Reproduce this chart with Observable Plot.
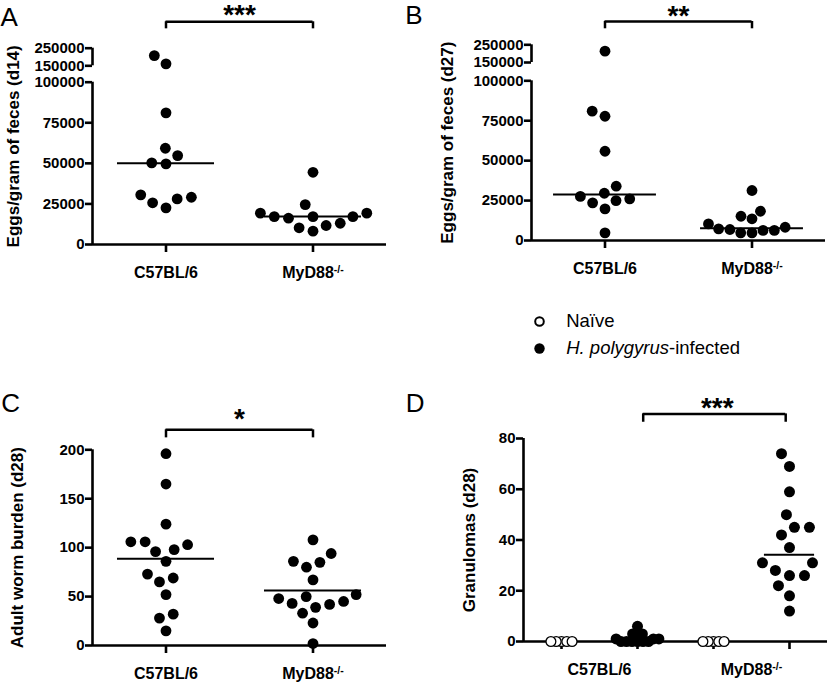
<!DOCTYPE html>
<html><head><meta charset="utf-8">
<script src="https://cdn.jsdelivr.net/npm/d3@7"></script>
<script src="https://cdn.jsdelivr.net/npm/@observablehq/plot@0.6"></script>
<style>
body{margin:0;background:#fff;}
#fig{position:relative;width:832px;height:684px;background:#fff;}
.cell{position:absolute;}
</style></head><body><div id="fig"></div>
<script>
// ---------- data ----------
const groups = ["C57BL/6", "MyD88-/-"];
// Panel A: eggs/gram of feces, day 14
const eggsD14C57 = [208000, 161000, 81100, 59300, 54800, 50300, 49700, 30600, 29100, 28100, 25700, 22600];
const eggsD14MyD88 = [44500, 24600, 19300, 19300, 17200, 17200, 17200, 16200, 13100, 11700, 10300, 8200];
const eggsD14Lines = [50000, 17200];
// Panel B: eggs/gram of feces, day 27
const eggsD27C57 = [214000, 81000, 77800, 55900, 34000, 29600, 27600, 26100, 25000, 23600, 19800, 4800];
const eggsD27MyD88 = [31300, 18300, 15200, 13600, 10400, 8300, 7300, 6900, 6300, 6300, 4800, 4800];
const eggsD27Lines = [28800, 7700];
const eggTicks = [0, 25000, 50000, 75000, 100000, 150000, 250000];
// Panel C: adult worm burden, day 28
const wormsC57 = [196, 165, 124, 106, 106, 103, 98, 96, 86, 73, 69, 65, 52, 32, 28, 15];
const wormsMyD88 = [108, 94, 86, 85, 80, 67, 52, 50, 48, 45, 43, 42, 39, 33, 23, 2];
const wormsLines = [88.6, 56.2];
const wormTicks = [0, 50, 100, 150, 200];
// Panel D: granulomas, day 28
const granCats = ["C57BL/6 naive", "C57BL/6 infected", "MyD88-/- naive", "MyD88-/- infected"];
const granC57Naive = [0, 0, 0, 0, 0];
const granC57Infected = [6, 3, 3, 2, 2, 1, 1, 1, 0, 0, 0, 0, 0, 0];
const granMyD88Naive = [0, 0, 0, 0, 0];
const granMyD88Infected = [74, 69, 59, 50, 45, 45, 42, 37, 31, 31, 28, 26, 26, 22, 18, 12];
const granLines = [null, 1, null, 34.2];
const granTicks = [0, 20, 40, 60, 80];
const significance = ["***", "**", "*", "***"];
const legendLabels = ["Naïve", "H. polygyrus-infected"];

// ---------- drawing ----------
const FONT = '"Liberation Sans", Arial, Helvetica, sans-serif';
const AX = 2.6;

function panel(cfg) {
  const first = cfg.cats[0];
  const b = cfg.bracket;
  const lines = cfg.lines.map((v, k) => ({g: cfg.cats[k], v})).filter(d => d.v != null);
  const dotMarks = cfg.series.map((vals, k) => {
    const g = cfg.cats[k];
    const naive = !!(cfg.naive && cfg.naive[k]);
    const r = naive ? cfg.r - 0.6 : cfg.r;
    const data = d3.sort(vals).map(v => ({g, v}));
    return Plot.dot(data, Plot.dodgeX({anchor: "middle", padding: cfg.pads[k], r},
      {fx: "g", y: "v", r, fill: naive ? "white" : "black", stroke: naive ? "black" : "none", strokeWidth: 1.3}));
  });
  const marks = [
    Plot.ruleY([0], {strokeWidth: AX}),
    Plot.ruleX(cfg.segs, {fx: () => first, x: -1, y1: d => d[0], y2: d => d[1], strokeWidth: AX}),
    Plot.axisY({ticks: cfg.ticks, tickFormat: d => String(d), tickSize: 7, tickPadding: 1, fontSize: 15, strokeWidth: AX, label: null}),
    Plot.axisFx({anchor: "bottom", tickSize: 8, tickPadding: 14, fontSize: 16, strokeWidth: AX, label: null, tickFormat: cfg.fxFormat || (d => d)}),
    Plot.ruleY(lines, {fx: "g", y: "v", x1: -cfg.half, x2: cfg.half, strokeWidth: 2}),
    ...dotMarks,
    // significance bracket
    Plot.ruleY([b.level], {fx: () => cfg.cats[b.facet], y: d => d, x1: b.x1, x2: b.x2, strokeWidth: 2.5}),
    Plot.ruleX([b.x1, b.x2], {fx: () => cfg.cats[b.facet], x: d => d, y1: b.drop, y2: b.level, strokeWidth: 2.5}),
    Plot.text([cfg.stars], {fx: () => cfg.cats[b.facet], x: b.sx, y: b.level, text: d => d, dy: b.sdy, fontSize: 28, lineAnchor: "middle"}),
    // y label
    Plot.text([cfg.yLabel], {fx: () => first, frameAnchor: "left", text: d => d, rotate: -90, textAnchor: "middle", lineAnchor: "top", dx: -cfg.labelOffset, fontSize: 17}),
    // panel letter
    Plot.text([cfg.letter], {fx: () => first, frameAnchor: "top-left", text: d => d, textAnchor: "start", lineAnchor: "top", dx: cfg.letterX - cfg.margins[3], dy: cfg.letterY - cfg.margins[0], fontSize: 26, fontWeight: "normal"})
  ];
  if (cfg.extra) marks.push(...cfg.extra);
  return Plot.plot({
    width: cfg.width, height: cfg.height,
    marginTop: cfg.margins[0], marginRight: cfg.margins[1], marginBottom: cfg.margins[2], marginLeft: cfg.margins[3],
    fx: {domain: cfg.cats, padding: 0},
    x: {type: "linear", domain: [-1, 1], axis: null},
    y: {type: "linear", domain: cfg.yDomain, range: cfg.yRange, axis: null},
    style: {fontFamily: FONT, fontWeight: "bold", fontSize: "15px", color: "black", background: "transparent", overflow: "visible"},
    marks
  });
}

function place(el, left, top) {
  const d = document.createElement("div");
  d.className = "cell";
  d.style.left = left + "px";
  d.style.top = top + "px";
  d.appendChild(el);
  document.getElementById("fig").appendChild(d);
}

place(panel({
  cats: groups, series: [eggsD14C57, eggsD14MyD88], lines: eggsD14Lines, ticks: eggTicks,
  yDomain: [0, 100000, 150000, 250000], yRange: [244, 81.7, 65.3, 47.7],
  segs: [[0, 100000], [150000, 250000]],
  width: 416, height: 300, margins: [47.7, 29.3, 56, 92],
  r: 5.4, pads: [3.5, 3.5], half: 0.66,
  bracket: {facet: 0, x1: 0, x2: 2, level: 400000, drop: 360000, sx: 1, sdy: -7},
  stars: significance[0], yLabel: "Eggs/gram of feces (d14)", labelOffset: 85.3,
  letter: "A", letterX: 0, letterY: 6.7
}), 0, 0);

place(panel({
  cats: groups, series: [eggsD27C57, eggsD27MyD88], lines: eggsD27Lines, ticks: eggTicks,
  yDomain: [0, 100000, 150000, 250000], yRange: [240, 80.3, 62, 44.3],
  segs: [[0, 100000], [150000, 250000]],
  width: 432, height: 300, margins: [44.3, 7, 60, 131],
  r: 5.4, pads: [3, 0.5], half: 0.7,
  bracket: {facet: 0, x1: 0, x2: 2, level: 381600, drop: 340400, sx: 1, sdy: -5.6},
  stars: significance[1], yLabel: "Eggs/gram of feces (d27)", labelOffset: 91,
  letter: "B", letterX: 4.7, letterY: 5
}), 400, 0);

place(panel({
  cats: groups, series: [wormsC57, wormsMyD88], lines: wormsLines, ticks: wormTicks,
  yDomain: [0, 200], yRange: [265, 69.3],
  segs: [[0, 200]],
  width: 416, height: 304, margins: [69.3, 29.3, 39, 91.7],
  r: 5.4, pads: [3.5, 3.5], half: 0.66,
  bracket: {facet: 0, x1: 0, x2: 2, level: 220.4, drop: 212.2, sx: 1, sdy: -10.5},
  stars: significance[2], yLabel: "Adult worm burden (d28)", labelOffset: 81.7,
  letter: "C", letterX: 0.4, letterY: 13.3
}), 0, 380);

place(panel({
  cats: granCats, series: [granC57Naive, granC57Infected, granMyD88Naive, granMyD88Infected],
  naive: [true, false, true, false], lines: granLines, ticks: granTicks,
  yDomain: [0, 80], yRange: [261, 58],
  segs: [[0, 80]],
  width: 432, height: 304, margins: [58, 3.7, 43, 120.7],
  r: 5.5, pads: [-4.5, -5.5, -4.5, 4], half: 0.66, fxFormat: () => "",
  bracket: {facet: 1, x1: 0.15, x2: 3.9, level: 89.7, drop: 86.4, sx: 2.1, sdy: -6.2},
  stars: significance[3], yLabel: "Granulomas (d28)", labelOffset: 60.7,
  letter: "D", letterX: 3, letterY: 13.3,
  extra: [
    Plot.text(groups, {fx: (d, i) => granCats[2 * i + 1], frameAnchor: "bottom-left", text: d => d, lineAnchor: "top", textAnchor: "middle", dy: 22, fontSize: 16})
  ]
}), 400, 380);

// legend
place(Plot.plot({
  width: 300, height: 70, marginTop: 0, marginBottom: 0, marginRight: 0, marginLeft: 39,
  y: {type: "point", domain: legendLabels, range: [21, 48.3], padding: 0, axis: null},
  style: {fontFamily: FONT, fontSize: "18.5px", color: "black", background: "transparent", overflow: "visible"},
  marks: [
    Plot.dot([legendLabels[0]], {y: d => d, frameAnchor: "left", r: 4.3, stroke: "black", strokeWidth: 2, fill: "white"}),
    Plot.dot([legendLabels[1]], {y: d => d, frameAnchor: "left", r: 5.2, fill: "black"}),
    Plot.text(legendLabels, {y: d => d, frameAnchor: "left", dx: 26.7, text: d => d, textAnchor: "start", lineAnchor: "middle", fontSize: 18.5})
  ]
}), 500, 300);

// superscripts / italics in real text
const NS = "http://www.w3.org/2000/svg";
document.querySelectorAll("#fig svg text").forEach(t => {
  const s = t.textContent;
  if (s === "MyD88-/-") {
    t.textContent = "MyD88";
    const ts = document.createElementNS(NS, "tspan");
    ts.setAttribute("font-size", "10.5");
    ts.setAttribute("dy", "-5");
    ts.textContent = "-/-";
    t.appendChild(ts);
  } else if (s === "H. polygyrus-infected") {
    t.textContent = "";
    const it = document.createElementNS(NS, "tspan");
    it.setAttribute("font-style", "italic");
    it.textContent = "H. polygyrus";
    t.appendChild(it);
    t.appendChild(document.createTextNode("-infected"));
  }
});
</script></body></html>
